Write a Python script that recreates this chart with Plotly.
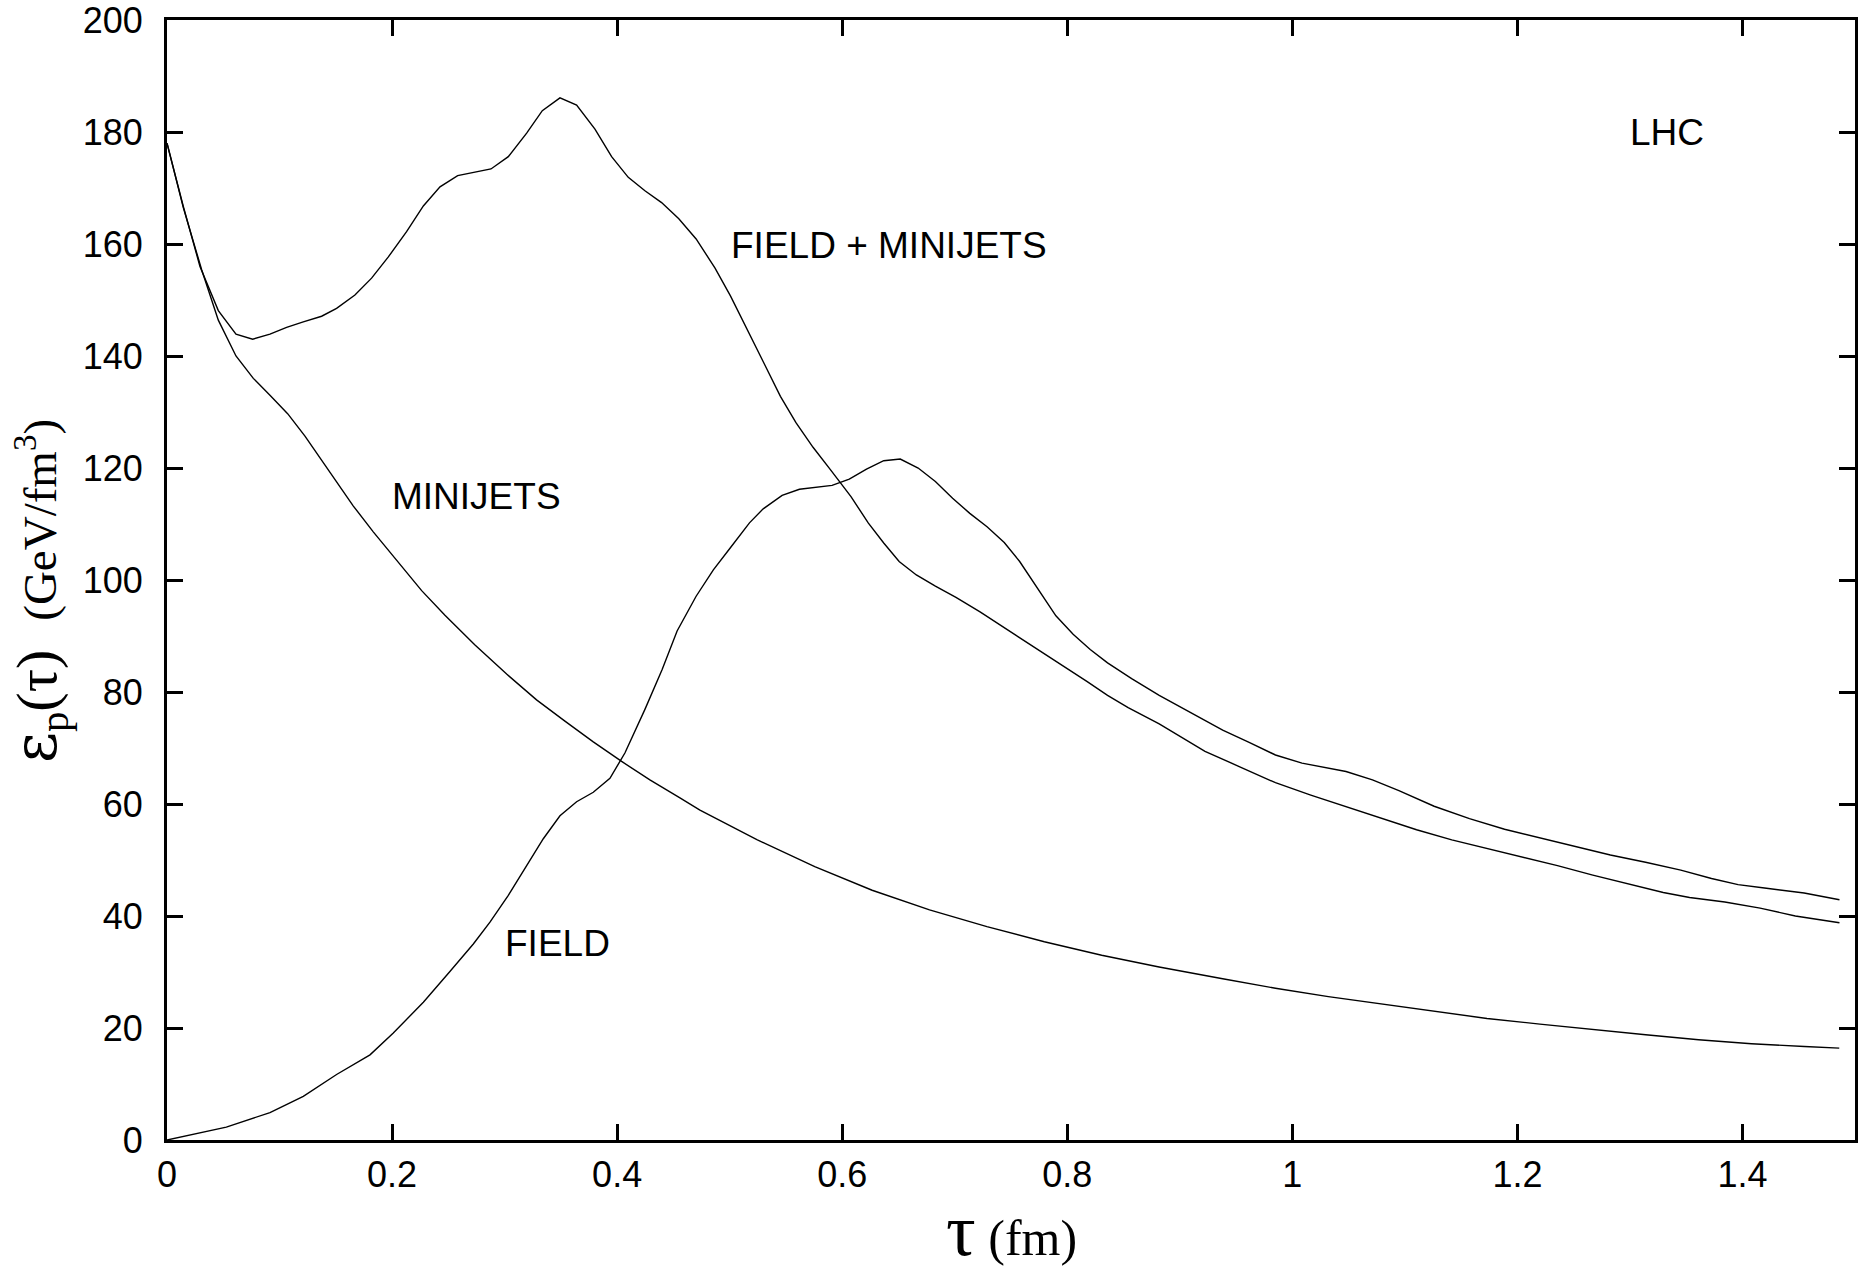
import plotly.graph_objects as go

# ---- data ----
tau_minijets = [0, 0.0145, 0.0308, 0.0456, 0.0613, 0.0767, 0.0915, 0.1072, 0.1226, 0.1389,
                0.1537, 0.1656, 0.1833, 0.2011, 0.2263, 0.247, 0.2737, 0.3018, 0.3284, 0.3536,
                0.3788, 0.404, 0.4291, 0.4558, 0.4736, 0.5246, 0.5756, 0.6266, 0.6776, 0.7286,
                0.7796, 0.8306, 0.8816, 0.9381, 0.985, 1.032, 1.079, 1.126, 1.173, 1.22,
                1.267, 1.314, 1.361, 1.408, 1.455, 1.486]
eps_minijets = [178, 166.5, 155.4, 146.4, 140, 136, 133, 129.7, 125.7, 120.9,
                116.5, 113.2, 108.6, 104.2, 98.1, 93.7, 88.4, 83.2, 78.6, 74.8,
                71.1, 67.6, 64.3, 61.1, 58.9, 53.6, 48.8, 44.6, 41.1, 38.1,
                35.4, 33.0, 30.9, 28.8, 27.1, 25.6, 24.3, 23.0, 21.7, 20.7,
                19.7, 18.8, 17.9, 17.2, 16.7, 16.4]

tau_field = [0, 0.0527, 0.0915, 0.1211, 0.1507, 0.1804, 0.2011, 0.2278, 0.2514, 0.2722,
             0.287, 0.3033, 0.3196, 0.3344, 0.3492, 0.364, 0.3788, 0.3936, 0.4069, 0.4247,
             0.44, 0.4533, 0.4702, 0.4855, 0.5008, 0.5176, 0.5298, 0.5466, 0.562, 0.591,
             0.6063, 0.6216, 0.6369, 0.6516, 0.6675, 0.6828, 0.6981, 0.7134, 0.7287, 0.744,
             0.7577, 0.7746, 0.7899, 0.8052, 0.8204, 0.8358, 0.8572, 0.8817, 0.9087, 0.9381,
             0.9616, 0.985, 1.0086, 1.0282, 1.0477, 1.0712, 1.0947, 1.126, 1.1574, 1.1886,
             1.2199, 1.2513, 1.2826, 1.3139, 1.3452, 1.3725, 1.3961, 1.4196, 1.4548, 1.4862]
eps_field = [0, 2.3, 4.9, 7.8, 11.7, 15.2, 19.1, 24.6, 30.1, 35.0,
             38.9, 43.7, 49.0, 53.8, 57.9, 60.4, 62.1, 64.6, 69.1, 76.9,
             84.0, 90.9, 97.1, 101.8, 105.8, 110.2, 112.7, 115.1, 116.2, 116.9,
             118.0, 119.8, 121.3, 121.6, 120.0, 117.6, 114.6, 111.9, 109.5, 106.7,
             103.3, 98.2, 93.6, 90.3, 87.6, 85.2, 82.4, 79.4, 76.5, 73.2,
             71.0, 68.75, 67.3, 66.5, 65.8, 64.3, 62.4, 59.6, 57.4, 55.5,
             54.0, 52.4, 50.9, 49.6, 48.2, 46.7, 45.6, 45.0, 44.1, 42.9]

tau_total = [0, 0.0145, 0.0293, 0.0456, 0.0613, 0.0761, 0.0915, 0.1063, 0.1211, 0.1374,
             0.1507, 0.167, 0.1818, 0.1967, 0.2129, 0.2278, 0.2426, 0.2583, 0.2879, 0.3033,
             0.3196, 0.3335, 0.3492, 0.364, 0.3803, 0.3951, 0.4099, 0.4247, 0.4395, 0.4548,
             0.4702, 0.487, 0.5008, 0.516, 0.5313, 0.5451, 0.5589, 0.5741, 0.5895, 0.6078,
             0.6231, 0.6369, 0.6506, 0.6659, 0.6828, 0.7011, 0.7225, 0.744, 0.7685, 0.793,
             0.8174, 0.8358, 0.8541, 0.8817, 0.9224, 0.9538, 0.985, 1.0164, 1.0477, 1.0791,
             1.1104, 1.1417, 1.173, 1.2043, 1.2356, 1.267, 1.2982, 1.3296, 1.353, 1.3843,
             1.4157, 1.447, 1.4862]
eps_total = [178, 166.7, 156, 148.1, 143.9, 143.0, 143.9, 145.1, 146.1, 147.1,
             148.5, 150.9, 153.9, 157.7, 162.2, 166.8, 170.2, 172.2, 173.4, 175.6,
             179.8, 183.8, 186.1, 184.8, 180.5, 175.6, 171.9, 169.5, 167.4, 164.5,
             160.9, 155.7, 150.7, 144.5, 138.3, 132.8, 128.1, 123.7, 119.7, 114.9,
             110.2, 106.6, 103.3, 100.9, 98.9, 96.9, 94.3, 91.5, 88.3, 85.2,
             81.9, 79.4, 77.2, 74.3, 69.4, 66.6, 63.8, 61.6, 59.5, 57.4,
             55.4, 53.6, 52.1, 50.6, 49.0, 47.3, 45.7, 44.2, 43.3, 42.5,
             41.4, 40.0, 38.8]

x_tick_vals = [0, 0.2, 0.4, 0.6, 0.8, 1.0, 1.2, 1.4]
x_tick_text = ["0", "0.2", "0.4", "0.6", "0.8", "1", "1.2", "1.4"]
y_tick_vals = [0, 20, 40, 60, 80, 100, 120, 140, 160, 180, 200]

label_text = ["FIELD + MINIJETS", "MINIJETS", "FIELD", "LHC"]
label_tau = [0.642, 0.275, 0.347, 1.333]
label_eps = [159.8, 115.0, 35.1, 180.0]

SANS = "Liberation Sans, Arial, Helvetica, sans-serif"
SERIF = "Liberation Serif, Times New Roman, serif"

fig = go.Figure()
line_style = dict(color="black", width=1.4)
for name, xs, ys in [("MINIJETS", tau_minijets, eps_minijets),
                     ("FIELD", tau_field, eps_field),
                     ("FIELD + MINIJETS", tau_total, eps_total)]:
    fig.add_trace(go.Scatter(x=xs, y=ys, mode="lines", name=name,
                             line=line_style, showlegend=False,
                             hoverinfo="skip"))

for t, xv, yv in zip(label_text, label_tau, label_eps):
    fig.add_annotation(x=xv, y=yv, xref="x", yref="y", text=t, showarrow=False,
                       font=dict(family=SANS, size=37, color="black"),
                       xanchor="center", yanchor="middle")

# axis titles
fig.add_annotation(
    x=0.5, y=-0.1179, xref="paper", yref="paper", showarrow=False, borderpad=0,
    text='<span style="font-size:74px">τ</span> (fm)',
    font=dict(family=SERIF, size=50, color="black"),
    xanchor="center", yanchor="bottom")
fig.add_annotation(
    x=-0.0531, y=0.490, xref="paper", yref="paper", showarrow=False, textangle=-90,
    borderpad=0,
    text='<span style="font-family:DejaVu Serif;font-size:60px">ε</span><sub>p</sub>(τ)'
         '&nbsp;&nbsp;<span style="font-size:47px">(GeV/fm<sup>3</sup>)</span>',
    font=dict(family=SERIF, size=58, color="black"),
    xanchor="right", yanchor="middle")

axis_common = dict(
    showline=True, linecolor="black", linewidth=3, mirror="allticks",
    ticks="inside", ticklen=16, tickwidth=2.5, tickcolor="black",
    showgrid=False, zeroline=False, automargin=False, ticklabeloverflow="allow",
    tickfont=dict(family=SANS, size=36, color="black"),
)
fig.update_xaxes(range=[0, 1.5], tickvals=x_tick_vals, ticktext=x_tick_text,
                 ticklabelstandoff=1, **axis_common)
fig.update_yaxes(range=[0, 200], tickvals=y_tick_vals, ticklabelstandoff=14,
                 **axis_common)

fig.update_layout(
    width=1873, height=1273,
    margin=dict(l=167, r=18, t=20, b=133),
    paper_bgcolor="white", plot_bgcolor="white",
    showlegend=False,
)
fig.write_html("out.html")
